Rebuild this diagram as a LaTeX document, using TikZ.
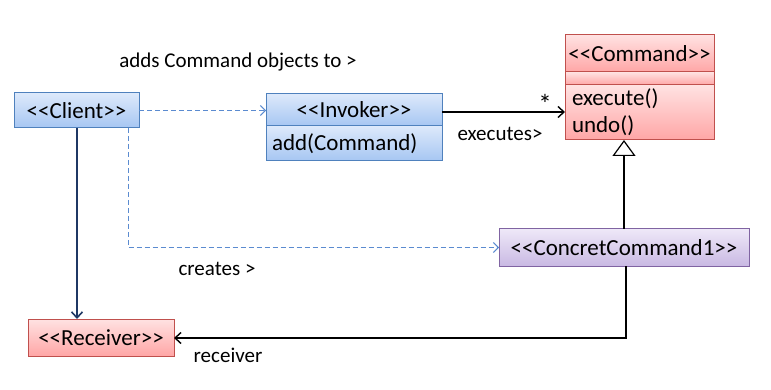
\documentclass[tikz,border=0pt]{standalone}
\usepackage{fontspec}
\setmainfont{Carlito}
\usetikzlibrary{arrows.meta}
% stereotype brackets kept apart so they are not turned into guillemets
\newcommand\stype[1]{<\kern0pt<#1>\kern0pt>}
\definecolor{blueedge}{HTML}{4F81BD}
\definecolor{bluetop}{HTML}{DDE9FB}
\definecolor{bluebot}{HTML}{A6C6F2}
\definecolor{rededge}{HTML}{C0504D}
\definecolor{redtop}{HTML}{FFE2E2}
\definecolor{redbot}{HTML}{FFA6A6}
\definecolor{violetedge}{HTML}{8064A2}
\definecolor{violettop}{HTML}{EEE8F8}
\definecolor{violetbot}{HTML}{C9B9E3}
\definecolor{dashblue}{HTML}{5B8BD0}
\definecolor{navy}{HTML}{1F3864}
\tikzset{
  box/.style={draw, line width=1pt, inner sep=0pt, outer sep=0pt,
    font=\fontsize{23}{26}\selectfont},
  bluebox/.style={box, draw=blueedge, top color=bluetop, bottom color=bluebot},
  redbox/.style={box, draw=rededge, top color=redtop, bottom color=redbot},
  violetbox/.style={box, draw=violetedge, top color=violettop, bottom color=violetbot},
  lbl/.style={font=\fontsize{21}{24}\selectfont, inner sep=0pt},
  dep/.style={draw=dashblue, line width=1pt, dash pattern=on 5pt off 3pt,
    -{Straight Barb[length=5pt,width=10pt]}},
  assoc/.style={draw=black, line width=1.4pt, -{Straight Barb[length=6pt,width=11pt]}},
  gen/.style={draw=black, line width=1.6pt, -{Triangle[open,length=16pt,width=23pt,line width=1.2pt]}},
}
\begin{document}
\begin{tikzpicture}[x=1pt,y=-1pt]
\useasboundingbox (0,0) rectangle (771,390);

% classes
\node[bluebox, minimum width=125, minimum height=35] (client) at (76.5,110.5) {\stype{Client}};
\node[bluebox, minimum width=176, minimum height=32] (invhead) at (354,110) {\stype{Invoker}};
\node[bluebox, minimum width=176, minimum height=35, text width=164, align=left] (invbody) at (354,143.5) {add(Command)};
\node[redbox, minimum width=149, minimum height=37] (cmdhead) at (639.5,53.5) {\stype{Command}};
\node[redbox, minimum width=149, minimum height=13] (cmdmid) at (639.5,78.5) {};
\node[redbox, minimum width=149, minimum height=55, text width=135, align=left,
  font=\fontsize{23}{27}\selectfont] (cmdbody) at (639.5,112.5) {execute()\\undo()};
\node[violetbox, minimum width=250, minimum height=37] (concrete) at (624,247.5) {\stype{ConcretCommand1}};
\node[redbox, minimum width=146, minimum height=37] (receiver) at (101,337.5) {\stype{Receiver}};

% bends of the routed connectors
\coordinate (cbend) at (128,247.5);
\coordinate (rbend) at (626,338);

% connectors
\draw[dep] (client.east) -- (client.east -| invhead.west);
\draw[dep] (client.south -| cbend) -- (cbend) -- (concrete.west);
\draw[draw=navy, line width=1.6pt, -{Straight Barb[length=6pt,width=11pt]}]
  (client.south -| 77,0) -- (receiver.north -| 77,0);
\draw[assoc] (invhead.east) ++(0,2) -- (cmdbody.west |- 0,112);
\draw[gen] (concrete.north -| 624,0) -- (cmdbody.south -| 624,0);
\draw[assoc] (concrete.south -| rbend) -- (rbend) -- (rbend -| receiver.east);

% labels
\node[lbl] (lbladds) at (238,62) {adds Command objects to >};
\node[lbl, font=\fontsize{27}{30}\selectfont] (lblstar) at (545,104) {*};
\node[lbl] (lblexec) at (500,134) {executes>};
\node[lbl] (lblcreates) at (217,269) {creates >};
\node[lbl] (lblrecv) at (228,355) {receiver};
\end{tikzpicture}
\end{document}
